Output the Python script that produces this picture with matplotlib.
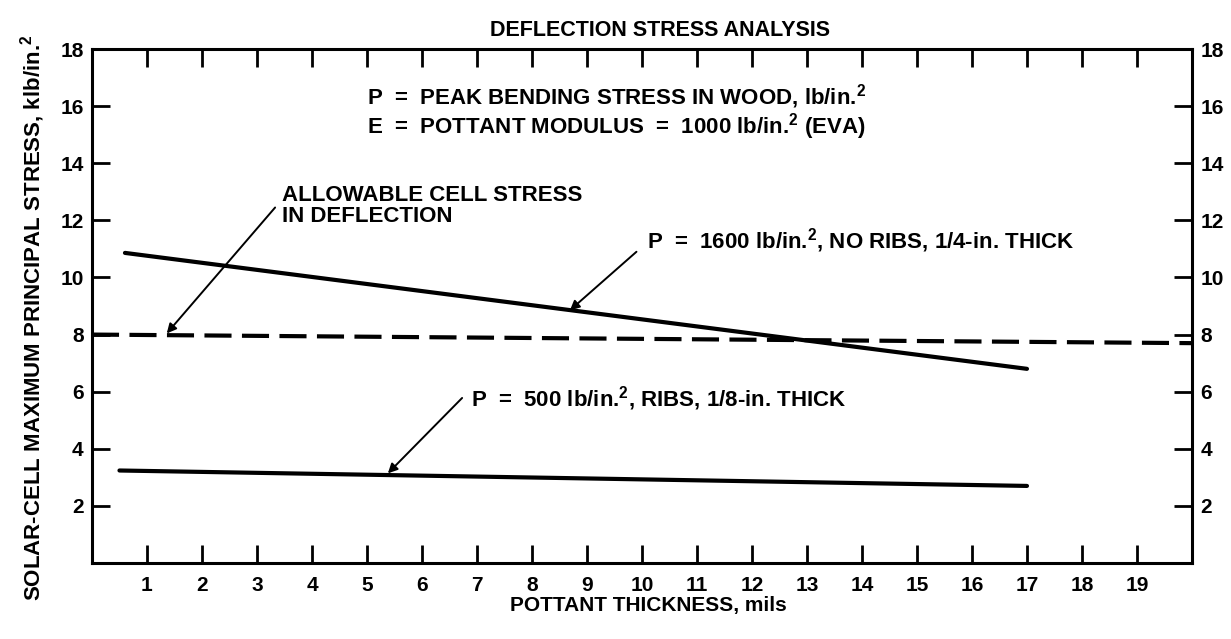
import matplotlib.pyplot as plt

plt.rcParams['font.family'] = ['Liberation Sans', 'DejaVu Sans']
plt.rcParams['font.weight'] = 'bold'
plt.rcParams['mathtext.fontset'] = 'custom'
plt.rcParams['mathtext.rm'] = 'Liberation Sans:bold'
plt.rcParams['mathtext.bf'] = 'Liberation Sans:bold'
plt.rcParams['mathtext.default'] = 'rm'

# data
x_ticks = list(range(1, 20))
y_ticks = [2, 4, 6, 8, 10, 12, 14, 16, 18]

thick_1600 = [0.6, 17.0]
stress_1600 = [10.86, 6.8]

thick_500 = [0.5, 17.0]
stress_500 = [3.24, 2.7]

thick_allow = [0.0, 20.0]
stress_allow = [8.0, 7.7]

fig = plt.figure(figsize=(12.31, 6.39), dpi=100)
ax = fig.add_axes([0.0747, 0.1189, 0.8936, 0.8044])

ax.plot(thick_1600, stress_1600, color='black', lw=3, solid_capstyle='round')
ax.plot(thick_500, stress_500, color='black', lw=3, solid_capstyle='round')
ax.plot(thick_allow, stress_allow, color='black', lw=3, dashes=(6.5, 2.5))

ax.set_xlim(0, 20)
ax.set_ylim(0, 18)
ax.set_xticks(x_ticks)
ax.set_yticks(y_ticks)
ax.tick_params(direction='in', length=13, width=2, labelsize=15,
               top=True, right=True, labelright=True, pad=6)
ax.tick_params(axis='x', pad=9)
for s in ax.spines.values():
    s.set_linewidth(2.2)

fs = 16

# notes
ax.text(5.0, 16.33, r'P  =  PEAK BENDING STRESS IN WOOD, lb/in.$^{2}$',
        fontsize=fs, va='center', ha='left')
ax.text(5.0, 15.27, r'E  =  POTTANT MODULUS  =  1000 lb/in.$^{2}$ (EVA)',
        fontsize=fs, va='center', ha='left')

arrow = dict(arrowstyle='-|>', color='black', lw=1.4, mutation_scale=14,
             shrinkA=0, shrinkB=0)

ax.text(3.45, 12.5, 'ALLOWABLE CELL STRESS\nIN DEFLECTION', fontsize=fs,
        va='center', ha='left', linespacing=1.05)
ax.annotate('', xy=(1.36, 8.04), xytext=(3.33, 12.45), arrowprops=arrow)

ax.text(10.09, 11.3, r'P  =  1600 lb/in.$^{2}$, NO RIBS, 1/4-in. THICK',
        fontsize=fs, va='center', ha='left')
ax.annotate('', xy=(8.69, 8.85), xytext=(9.9, 10.9), arrowprops=arrow)

ax.text(6.9, 5.75, r'P  =  500 lb/in.$^{2}$, RIBS, 1/8-in. THICK',
        fontsize=fs, va='center', ha='left')
ax.annotate('', xy=(5.38, 3.14), xytext=(6.73, 5.78), arrowprops=arrow)

fig.text(660 / 1231, 1 - 31 / 639, 'DEFLECTION STRESS ANALYSIS',
         fontsize=15.5, ha='center', va='center')
fig.text(648 / 1231, 1 - 606 / 639, 'POTTANT THICKNESS, mils',
         fontsize=15, ha='center', va='center')
fig.text(33 / 1231, 1 - 318 / 639,
         r'SOLAR-CELL MAXIMUM PRINCIPAL STRESS, klb/in.$^{2}$',
         fontsize=16, ha='center', va='center', rotation=90)

fig.savefig('out.png', dpi=100)
